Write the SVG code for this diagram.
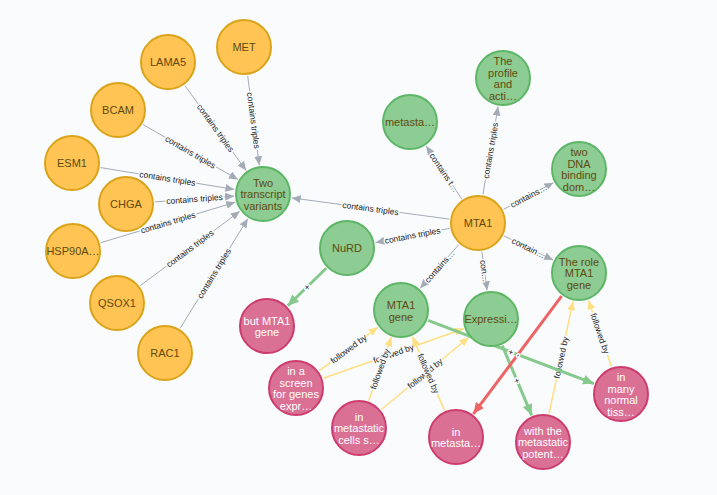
<svg xmlns="http://www.w3.org/2000/svg" width="717" height="495" viewBox="0 0 717 495">
<defs>
<style>
.bg{fill:#F9FBFD}
.node circle{stroke-width:2}
.orange circle{fill:#FFC454;stroke:#D9A41A}
.green circle{fill:#8DCC93;stroke:#5DB665}
.pink circle{fill:#DA7194;stroke:#CC3C6C}
.node text{font-family:"Liberation Sans",Arial,sans-serif;font-size:11px;text-anchor:middle}
.orange text,.green text{fill:#604A0E}
.pink text{fill:#FFFFFF}
.e{fill:none}
.gray{stroke:#A5ABB6;stroke-width:1}
.yel{stroke:#FFDF81;stroke-width:1.5}
.grn{stroke:#86C98C;stroke-width:3}
.red{stroke:#EE6363;stroke-width:3}
.lbl{font-family:"Liberation Sans",Arial,sans-serif;font-size:8.5px;fill:#222;text-anchor:middle;stroke:#F9FBFD;stroke-width:3;paint-order:stroke;stroke-linejoin:round}
</style>
<marker id="ag" markerWidth="9" markerHeight="8" refX="9" refY="4" orient="auto" markerUnits="userSpaceOnUse"><path d="M0,0 L9,4 L0,8 z" fill="#A5ABB6"/></marker>
<marker id="ay" markerWidth="9" markerHeight="8" refX="9" refY="4" orient="auto" markerUnits="userSpaceOnUse"><path d="M0,0 L9,4 L0,8 z" fill="#FFDF81"/></marker>
<marker id="an" markerWidth="11" markerHeight="10" refX="11" refY="5" orient="auto" markerUnits="userSpaceOnUse"><path d="M0,0 L11,5 L0,10 z" fill="#86C98C"/></marker>
<marker id="ar" markerWidth="11" markerHeight="10" refX="11" refY="5" orient="auto" markerUnits="userSpaceOnUse"><path d="M0,0 L11,5 L0,10 z" fill="#EE6363"/></marker>
</defs>
<rect class="bg" x="0" y="0" width="717" height="495"/>
<g id="connectors">
<path class="e gray" d="M247.7,75.8 L259.3,165.2" marker-end="url(#ag)"/>
<text class="lbl" transform="translate(253.5,120.5) rotate(82.6)" dy="3">contains triples</text>
<path class="e gray" d="M184.9,85.5 L246.1,170.5" marker-end="url(#ag)"/>
<text class="lbl" transform="translate(215.5,128) rotate(54.3)" dy="3">contains triples</text>
<path class="e gray" d="M143.1,124.5 L237.9,179.5" marker-end="url(#ag)"/>
<text class="lbl" transform="translate(190.5,152) rotate(30.1)" dy="3">contains triples</text>
<path class="e gray" d="M100.6,167.6 L234.4,189.4" marker-end="url(#ag)"/>
<text class="lbl" transform="translate(167.5,178.5) rotate(9.2)" dy="3">contains triples</text>
<path class="e gray" d="M154.9,201.9 L234.1,196.1" marker-end="url(#ag)"/>
<text class="lbl" transform="translate(194.5,199) rotate(-4.2)" dy="3">contains triples</text>
<path class="e gray" d="M100.8,242.7 L235.2,202.3" marker-end="url(#ag)"/>
<text class="lbl" transform="translate(168,222.5) rotate(-16.7)" dy="3">contains triples</text>
<path class="e gray" d="M140.2,285.7 L239.8,211.3" marker-end="url(#ag)"/>
<text class="lbl" transform="translate(190,248.5) rotate(-36.7)" dy="3">contains triples</text>
<path class="e gray" d="M180.2,328.3 L247.8,218.7" marker-end="url(#ag)"/>
<text class="lbl" transform="translate(214,273.5) rotate(-58.4)" dy="3">contains triples</text>
<path class="e gray" d="M449.3,219.1 L291.7,197.9" marker-end="url(#ag)"/>
<text class="lbl" transform="translate(370.5,208.5) rotate(7.7)" dy="3">contains triples</text>
<path class="e gray" d="M461.8,199 L426.2,146" marker-end="url(#ag)"/>
<text class="lbl" transform="translate(444,172.5) rotate(56.1)" dy="3">contains t…</text>
<path class="e gray" d="M482.9,194.4 L498.1,106.6" marker-end="url(#ag)"/>
<text class="lbl" transform="translate(490.5,150.5) rotate(-80.2)" dy="3">contains triples</text>
<path class="e gray" d="M503.6,209.3 L553.4,182.7" marker-end="url(#ag)"/>
<text class="lbl" transform="translate(528.5,196) rotate(-28.1)" dy="3">contains…</text>
<path class="e gray" d="M504,235.9 L553,260.1" marker-end="url(#ag)"/>
<text class="lbl" transform="translate(528.5,248) rotate(26.3)" dy="3">contain…</text>
<path class="e gray" d="M449.5,228.4 L375.5,242.6" marker-end="url(#ag)"/>
<text class="lbl" transform="translate(412.5,235.5) rotate(-10.8)" dy="3">contains triples</text>
<path class="e gray" d="M458.8,244.7 L420.2,288.3" marker-end="url(#ag)"/>
<text class="lbl" transform="translate(439.5,266.5) rotate(-48.5)" dy="3">contains…</text>
<path class="e gray" d="M481.9,251.7 L487.1,290.3" marker-end="url(#ag)"/>
<text class="lbl" transform="translate(484.5,271) rotate(82.3)" dy="3">con…</text>
<path class="e yel" d="M319.3,370.7 L377.7,327.3" marker-end="url(#ay)"/>
<text class="lbl" transform="translate(348.5,349) rotate(-36.6)" dy="3">followed by</text>
<path class="e yel" d="M323.3,378.3 L463.7,328.7" marker-end="url(#ay)"/>
<text class="lbl" transform="translate(393.5,353.5) rotate(-19.5)" dy="3">followed by</text>
<path class="e yel" d="M368.7,400.7 L391.3,337.3" marker-end="url(#ay)"/>
<text class="lbl" transform="translate(380,369) rotate(-70.4)" dy="3">followed by</text>
<path class="e yel" d="M381.4,409.5 L468.6,337.5" marker-end="url(#ay)"/>
<text class="lbl" transform="translate(425,373.5) rotate(-39.5)" dy="3">followed by</text>
<path class="e yel" d="M444.5,410.4 L412.5,336.6" marker-end="url(#ay)"/>
<text class="lbl" transform="translate(428.5,373.5) rotate(66.6)" dy="3">followed by</text>
<path class="e yel" d="M549,413.6 L573,301.4" marker-end="url(#ay)"/>
<text class="lbl" transform="translate(561,357.5) rotate(-78)" dy="3">followed by</text>
<path class="e yel" d="M611.5,366.6 L588.5,300.4" marker-end="url(#ay)"/>
<text class="lbl" transform="translate(600,333.5) rotate(70.9)" dy="3">followed by</text>
<path class="e grn" d="M326.2,268.2 L287.8,305.8" marker-end="url(#an)"/>
<text class="lbl" transform="translate(307,287) rotate(-44.3)" dy="3">+</text>
<path class="e grn" d="M428.1,320.4 L593.9,383.6" marker-end="url(#an)"/>
<text class="lbl" transform="translate(511,352) rotate(20.9)" dy="3">+</text>
<path class="e grn" d="M502.3,345.7 L531.7,415.3" marker-end="url(#an)"/>
<text class="lbl" transform="translate(517,380.5) rotate(67.1)" dy="3">+</text>
<path class="e red" d="M561.6,296.2 L473.4,413.8" marker-end="url(#ar)"/>
<text class="lbl" transform="translate(517.5,355) rotate(-53.1)" dy="3">-</text>
</g>
<g id="n-met" class="node orange"><circle cx="244" cy="47" r="27"/><text x="244" y="51">MET</text></g>
<g id="n-lama5" class="node orange"><circle cx="168" cy="62" r="27"/><text x="168" y="66">LAMA5</text></g>
<g id="n-bcam" class="node orange"><circle cx="118" cy="110" r="27"/><text x="118" y="114">BCAM</text></g>
<g id="n-esm1" class="node orange"><circle cx="72" cy="163" r="27"/><text x="72" y="167">ESM1</text></g>
<g id="n-chga" class="node orange"><circle cx="126" cy="204" r="27"/><text x="126" y="208">CHGA</text></g>
<g id="n-hsp90a" class="node orange"><circle cx="73" cy="251" r="27"/><text x="73" y="255">HSP90A…</text></g>
<g id="n-qsox1" class="node orange"><circle cx="117" cy="303" r="27"/><text x="117" y="307">QSOX1</text></g>
<g id="n-rac1" class="node orange"><circle cx="165" cy="353" r="27"/><text x="165" y="357">RAC1</text></g>
<g id="n-mta1" class="node orange"><circle cx="478" cy="223" r="27"/><text x="478" y="227">MTA1</text></g>
<g id="n-two" class="node green"><circle cx="263" cy="194" r="27"/><text x="263" y="186.5">Two<tspan x="263" dy="11.5">transcript</tspan><tspan x="263" dy="11.5">variants</tspan></text></g>
<g id="n-metasta" class="node green"><circle cx="410" cy="122" r="27"/><text x="410" y="126">metasta…</text></g>
<g id="n-profile" class="node green"><circle cx="503" cy="78" r="27"/><text x="503" y="65">The<tspan x="503" dy="11.5">profile</tspan><tspan x="503" dy="11.5">and</tspan><tspan x="503" dy="11.5">acti…</tspan></text></g>
<g id="n-dna" class="node green"><circle cx="579" cy="169" r="27"/><text x="579" y="156">two<tspan x="579" dy="11.5">DNA</tspan><tspan x="579" dy="11.5">binding</tspan><tspan x="579" dy="11.5">dom…</tspan></text></g>
<g id="n-role" class="node green"><circle cx="579" cy="273" r="27"/><text x="579" y="265.5">The role<tspan x="579" dy="11.5">MTA1</tspan><tspan x="579" dy="11.5">gene</tspan></text></g>
<g id="n-nurd" class="node green"><circle cx="347" cy="248" r="27"/><text x="347" y="252">NuRD</text></g>
<g id="n-gene" class="node green"><circle cx="401" cy="310" r="27"/><text x="401" y="309">MTA1<tspan x="401" dy="11.5">gene</tspan></text></g>
<g id="n-expr" class="node green"><circle cx="491" cy="319" r="27"/><text x="491" y="323">Expressi…</text></g>
<g id="n-but" class="node pink"><circle cx="267" cy="326" r="27"/><text x="267" y="324.5">but MTA1<tspan x="267" dy="11.5">gene</tspan></text></g>
<g id="n-screen" class="node pink"><circle cx="296" cy="388" r="27"/><text x="296" y="375">in a<tspan x="296" dy="11.5">screen</tspan><tspan x="296" dy="11.5">for genes</tspan><tspan x="296" dy="11.5">expr…</tspan></text></g>
<g id="n-cells" class="node pink"><circle cx="359" cy="428" r="27"/><text x="359" y="420.5">in<tspan x="359" dy="11.5">metastatic</tspan><tspan x="359" dy="11.5">cells s…</tspan></text></g>
<g id="n-bmeta" class="node pink"><circle cx="456" cy="437" r="27"/><text x="456" y="435.5">in<tspan x="456" dy="11.5">metasta…</tspan></text></g>
<g id="n-with" class="node pink"><circle cx="543" cy="442" r="27"/><text x="543" y="434.5">with the<tspan x="543" dy="11.5">metastatic</tspan><tspan x="543" dy="11.5">potent…</tspan></text></g>
<g id="n-many" class="node pink"><circle cx="621" cy="394" r="27"/><text x="621" y="381">in<tspan x="621" dy="11.5">many</tspan><tspan x="621" dy="11.5">normal</tspan><tspan x="621" dy="11.5">tiss…</tspan></text></g>
</svg>
